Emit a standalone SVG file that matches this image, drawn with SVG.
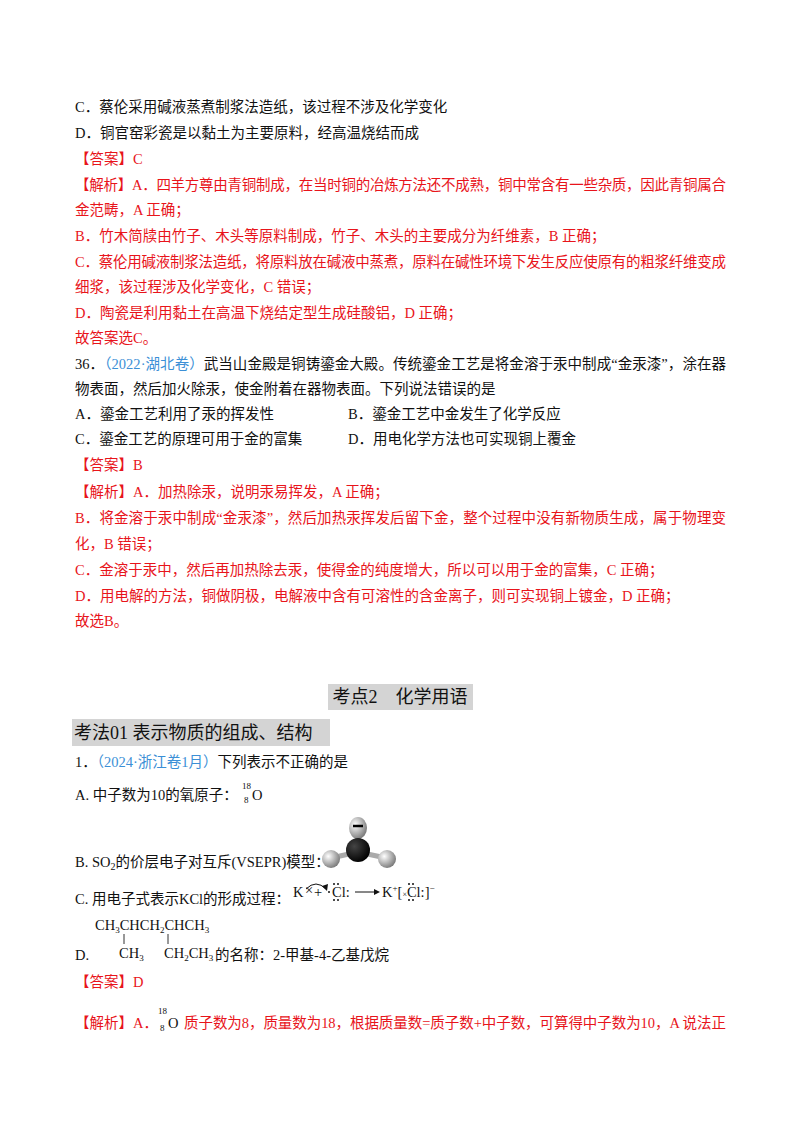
<svg xmlns="http://www.w3.org/2000/svg" width="800" height="1132" viewBox="0 0 800 1132">
<style>
text{font-family:"Liberation Serif","Noto Sans CJK SC",serif;font-size:14.5px;fill:#111}
.r{fill:#e8141b}
.b{fill:#3b8fd6}
.h{font-size:18px}
.s{font-size:9px}
</style>
<defs>
<radialGradient id="g" cx="0.35" cy="0.35" r="0.7"><stop offset="0" stop-color="#fff"/><stop offset="1" stop-color="#777"/></radialGradient>
<radialGradient id="k" cx="0.35" cy="0.35" r="0.7"><stop offset="0" stop-color="#444"/><stop offset="1" stop-color="#000"/></radialGradient>
</defs>
<rect width="800" height="1132" fill="#fff"/>
<g id="text-top">
<text x="75" y="112">C．蔡伦采用碱液蒸煮制浆法造纸，该过程不涉及化学变化</text>
<text x="75" y="138">D．铜官窑彩瓷是以黏土为主要原料，经高温烧结而成</text>
<text class="r" x="75" y="164">【答案】C</text>
<text class="r" x="75" y="190" textLength="651">【解析】A．四羊方尊由青铜制成，在当时铜的冶炼方法还不成熟，铜中常含有一些杂质，因此青铜属合</text>
<text class="r" x="75" y="215">金范畴，A 正确；</text>
<text class="r" x="75" y="241">B．竹木简牍由竹子、木头等原料制成，竹子、木头的主要成分为纤维素，B 正确；</text>
<text class="r" x="75" y="267" textLength="651">C．蔡伦用碱液制浆法造纸，将原料放在碱液中蒸煮，原料在碱性环境下发生反应使原有的粗浆纤维变成</text>
<text class="r" x="75" y="292">细浆，该过程涉及化学变化，C 错误；</text>
<text class="r" x="75" y="318">D．陶瓷是利用黏土在高温下烧结定型生成硅酸铝，D 正确；</text>
<text class="r" x="75" y="343">故答案选C。</text>
<text x="75" y="369" textLength="651">36．<tspan class="b">（2022·湖北卷）</tspan>武当山金殿是铜铸鎏金大殿。传统鎏金工艺是将金溶于汞中制成“金汞漆”，涂在器</text>
<text x="75" y="394">物表面，然后加火除汞，使金附着在器物表面。下列说法错误的是</text>
<text x="75" y="419">A．鎏金工艺利用了汞的挥发性</text>
<text x="348" y="419">B．鎏金工艺中金发生了化学反应</text>
<text x="75" y="444">C．鎏金工艺的原理可用于金的富集</text>
<text x="348" y="444">D．用电化学方法也可实现铜上覆金</text>
<text class="r" x="75" y="470">【答案】B</text>
<text class="r" x="75" y="497">【解析】A．加热除汞，说明汞易挥发，A 正确；</text>
<text class="r" x="75" y="523" textLength="651">B．将金溶于汞中制成“金汞漆”，然后加热汞挥发后留下金，整个过程中没有新物质生成，属于物理变</text>
<text class="r" x="75" y="549">化，B 错误；</text>
<text class="r" x="75" y="575">C．金溶于汞中，然后再加热除去汞，使得金的纯度增大，所以可以用于金的富集，C 正确；</text>
<text class="r" x="75" y="601">D．用电解的方法，铜做阴极，电解液中含有可溶性的含金离子，则可实现铜上镀金，D 正确；</text>
<text class="r" x="75" y="626">故选B。</text>
</g>
<g id="headings">
<rect x="328" y="684" width="145" height="26" fill="#d4d4d4"/>
<text class="h" x="400" y="703" text-anchor="middle">考点2　化学用语</text>
<rect x="72" y="719" width="258" height="27" fill="#d4d4d4"/>
<text class="h" x="74" y="739" font-size="19">考法01  表示物质的组成、结构</text>
<text x="75" y="767">1．<tspan class="b">（2024·浙江卷1月）</tspan>下列表示不正确的是</text>
</g>
<g id="question">
<text x="75" y="800">A. 中子数为10的氧原子：</text>
<text class="s" x="242" y="789">18</text>
<text class="s" x="244" y="803">8</text>
<text x="252" y="800" font-size="16">O</text>
<text x="75" y="867">B. SO<tspan font-size="10" dy="3">2</tspan><tspan dy="-3">的价层电子对互斥(VSEPR)模型：</tspan></text>
<g id="molecule">
<line x1="358" y1="830" x2="358" y2="852" stroke="#999" stroke-width="5"/>
<line x1="358" y1="852" x2="331" y2="858" stroke="#aaa" stroke-width="5"/>
<line x1="358" y1="852" x2="386" y2="858" stroke="#aaa" stroke-width="5"/>
<ellipse cx="358" cy="828" rx="9" ry="11" fill="url(#g)"/>
<line x1="353" y1="826" x2="363" y2="826" stroke="#000" stroke-width="2.5"/>
<circle cx="358" cy="850" r="12" fill="url(#k)"/>
<circle cx="331" cy="859" r="9" fill="url(#g)"/>
<circle cx="387" cy="859" r="9" fill="url(#g)"/>
</g>
<text x="75" y="904">C. 用电子式表示KCl的形成过程：</text>
<g id="kcl" fill="#111">
<text x="293" y="897" font-size="14">K</text>
<text x="305" y="895" font-size="8">×</text>
<path d="M306 889 Q316 879 326 889" fill="none" stroke="#111"/>
<path d="M322 886 L327 891 L328 884 Z"/>
<text x="314" y="897" font-size="14">+</text>
<circle cx="329" cy="892" r="1"/>
<text x="332" y="897" font-size="14">Cl:</text>
<circle cx="334" cy="884" r="1"/><circle cx="338" cy="884" r="1"/>
<circle cx="334" cy="900" r="1"/><circle cx="338" cy="900" r="1"/>
<line x1="355" y1="892" x2="375" y2="892" stroke="#111"/>
<path d="M374 889 L380 892 L374 895 Z"/>
<text x="382" y="897" font-size="14">K<tspan font-size="9" dy="-6">+</tspan><tspan dy="6">[</tspan><tspan font-size="8">×</tspan>Cl:]<tspan font-size="9" dy="-6">−</tspan></text>
<circle cx="409" cy="884" r="1"/><circle cx="413" cy="884" r="1"/>
<circle cx="409" cy="900" r="1"/><circle cx="413" cy="900" r="1"/>
</g>
<text x="95" y="930" font-size="13">CH<tspan font-size="9" dy="3">3</tspan><tspan dy="-3">CHCH</tspan><tspan font-size="9" dy="3">2</tspan><tspan dy="-3">CHCH</tspan><tspan font-size="9" dy="3">3</tspan></text>
<line x1="124" y1="934" x2="124" y2="944" stroke="#333"/>
<line x1="168" y1="934" x2="168" y2="944" stroke="#333"/>
<text x="75" y="960">D.</text>
<text x="119" y="958" font-size="13">CH<tspan font-size="9" dy="3">3</tspan></text>
<text x="164" y="958" font-size="13">CH<tspan font-size="9" dy="3">2</tspan><tspan dy="-3">CH</tspan><tspan font-size="9" dy="3">3</tspan></text>
<text x="215" y="960">的名称：2-甲基-4-乙基戊烷</text>
<text class="r" x="75" y="987">【答案】D</text>
<text class="s" x="158" y="1014">18</text>
<text class="s" x="160" y="1031">8</text>
<text class="r" x="75" y="1028">【解析】A．</text>
<text x="168" y="1028" font-size="16">O</text>
<text class="r" x="184" y="1028" textLength="542">质子数为8，质量数为18，根据质量数=质子数+中子数，可算得中子数为10，A 说法正</text>
</g>
</svg>
